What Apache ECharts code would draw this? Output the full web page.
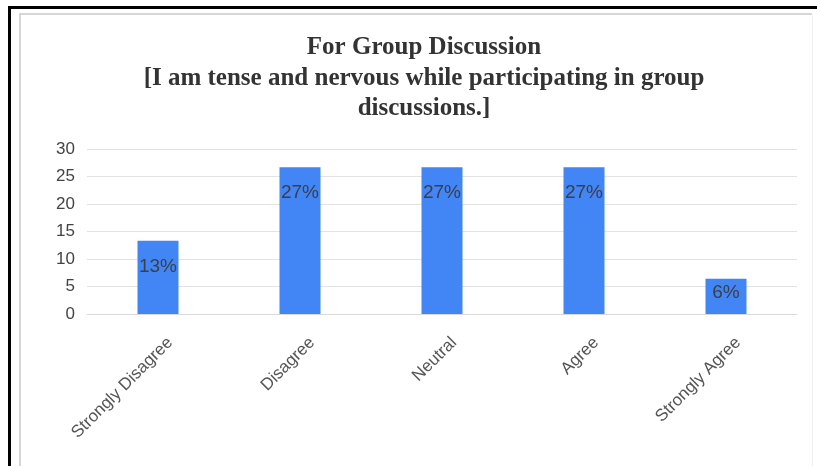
<!DOCTYPE html>
<html>
<head>
<meta charset="utf-8">
<title>For Group Discussion</title>
<script src="https://cdn.jsdelivr.net/npm/echarts@6/dist/echarts.min.js"></script>
<style>
  html, body { margin: 0; padding: 0; background: #ffffff; }
  #chart { width: 817px; height: 466px; }
</style>
</head>
<body>
<div id="chart"></div>
<script>
// Survey responses (percent of respondents)
const categories = ['Strongly Disagree', 'Disagree', 'Neutral', 'Agree', 'Strongly Agree'];
const percentages = [13.3, 26.7, 26.7, 26.7, 6.4];
const yTicks = [0, 5, 10, 15, 20, 25, 30];

const titleLines = [
  'For Group Discussion',
  '[I am tense and nervous while participating in group',
  'discussions.]'
];

const chart = echarts.init(document.getElementById('chart'), null, { renderer: 'canvas' });

const barData = percentages.map((v) => {
  const item = { value: v };
  // short bars keep their label close to the top edge
  if (v < 10) item.label = { distance: 4 };
  return item;
});

const option = {
  backgroundColor: '#ffffff',
  animation: false,
  title: {
    text: titleLines.join('\n'),
    left: 419,
    top: 27,
    textAlign: 'center',
    textStyle: {
      fontFamily: '"Liberation Serif", "Times New Roman", serif',
      fontWeight: 'bold',
      fontSize: 25,
      lineHeight: 30.7,
      color: '#333333'
    }
  },
  grid: {
    left: 87,
    right: 20,
    top: 149,
    bottom: 152,
    containLabel: false
  },
  xAxis: {
    type: 'category',
    data: categories,
    axisLine: { show: true, lineStyle: { color: '#d9d9d9', width: 1 } },
    axisTick: { show: false },
    axisLabel: {
      rotate: 45,
      margin: 38,
      padding: [0, -17, 0, 0],
      fontFamily: 'Arial, "Liberation Sans", sans-serif',
      fontSize: 17,
      color: '#555555',
      interval: 0
    }
  },
  yAxis: {
    type: 'value',
    min: yTicks[0],
    max: yTicks[yTicks.length - 1],
    interval: yTicks[1] - yTicks[0],
    axisLine: { show: false },
    axisTick: { show: false },
    splitLine: { show: true, lineStyle: { color: '#e3e3e3', width: 1 } },
    axisLabel: {
      margin: 12,
      fontFamily: 'Arial, "Liberation Sans", sans-serif',
      fontSize: 17,
      color: '#444444'
    }
  },
  series: [{
    type: 'bar',
    data: barData,
    barWidth: 41,
    itemStyle: { color: '#4285f4' },
    label: {
      show: true,
      position: 'insideTop',
      distance: 16,
      fontFamily: 'Arial, "Liberation Sans", sans-serif',
      fontSize: 19,
      color: '#3a3f4a',
      formatter: p => Math.round(p.value) + '%'
    }
  }],
  graphic: [
    // outer black frame (top and left edges)
    { type: 'line', shape: { x1: 8, y1: 7.5, x2: 817, y2: 7.5 }, style: { stroke: '#000000', lineWidth: 3 }, silent: true },
    { type: 'line', shape: { x1: 9.5, y1: 6, x2: 9.5, y2: 466 }, style: { stroke: '#000000', lineWidth: 3 }, silent: true },
    // inner light frame
    { type: 'line', shape: { x1: 19, y1: 14, x2: 812, y2: 14 }, style: { stroke: '#d6d6d6', lineWidth: 2 }, silent: true },
    { type: 'line', shape: { x1: 20, y1: 13, x2: 20, y2: 466 }, style: { stroke: '#d6d6d6', lineWidth: 2 }, silent: true },
    { type: 'line', shape: { x1: 812.5, y1: 15, x2: 812.5, y2: 466 }, style: { stroke: '#eeeeee', lineWidth: 1 }, silent: true }
  ]
};

chart.setOption(option);
</script>
</body>
</html>
